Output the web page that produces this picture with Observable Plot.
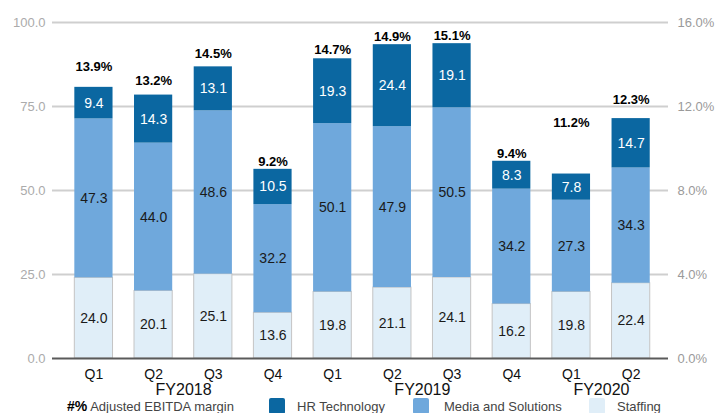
<!DOCTYPE html>
<html>
<head>
<meta charset="utf-8">
<script src="https://cdn.jsdelivr.net/npm/d3@7"></script>
<script src="https://cdn.jsdelivr.net/npm/@observablehq/plot@0.6"></script>
<style>
  body { margin: 0; background: #fff; font-family: "Liberation Sans", Arial, sans-serif; }
  #chart { width: 718px; height: 400px; }
  .legend { position: relative; margin-top: -3px; height: 16px; width: 718px; font-size: 13px; color: #444; overflow: hidden; }
  .legend span { position: absolute; top: 1px; line-height: 17px; white-space: nowrap; }
  .legend .sw { width: 16px; height: 16px; border-radius: 2px; top: 1px; }
</style>
</head>
<body>
<div id="chart"></div>
<div class="legend" id="legend"></div>
<script>
const quarters = ["Q1","Q2","Q3","Q4","Q1","Q2","Q3","Q4","Q1","Q2"];
const fiscalYears = ["FY2018","FY2018","FY2018","FY2018","FY2019","FY2019","FY2019","FY2019","FY2020","FY2020"];
const staffing = [24.0, 20.1, 25.1, 13.6, 19.8, 21.1, 24.1, 16.2, 19.8, 22.4];
const media = [47.3, 44.0, 48.6, 32.2, 50.1, 47.9, 50.5, 34.2, 27.3, 34.3];
const hrTech = [9.4, 14.3, 13.1, 10.5, 19.3, 24.4, 19.1, 8.3, 7.8, 14.7];
const ebitdaMargin = [13.9, 13.2, 14.5, 9.2, 14.7, 14.9, 15.1, 9.4, 11.2, 12.3];
const seriesNames = ["Staffing", "Media and Solutions", "HR Technology"];
const seriesColors = ["#e0eef8", "#6fa8dc", "#0b67a1"];
const leftTicks = [0, 25, 50, 75, 100];
const rightTicks = [0, 4, 8, 12, 16];
const fyLabelAt = ["FY2018 Q2", "FY2019 Q2", "FY2020 Q1"];

const keys = quarters.map((q, i) => fiscalYears[i] + " " + q);
const seriesValues = [staffing, media, hrTech];
const rows = [];
seriesNames.forEach((s, si) => keys.forEach((k, i) => rows.push({key: k, series: s, value: seriesValues[si][i]})));
const yMax = leftTicks[leftTicks.length - 1];
const y2Max = rightTicks[rightTicks.length - 1];
const toLeft = v => v * yMax / y2Max;
// margin label sits at its secondary-axis value, but is kept clear of the bar top
const marginRows = keys.map((k, i) => {
  const total = staffing[i] + media[i] + hrTech[i];
  return {key: k, margin: ebitdaMargin[i], pos: Math.max(toLeft(ebitdaMargin[i]), total + 2.2)};
});

const plot = Plot.plot({
  width: 718,
  height: 400,
  marginTop: 22,
  marginBottom: 42,
  marginLeft: 52,
  marginRight: 50,
  style: {fontFamily: '"Liberation Sans", Arial, sans-serif', background: "#fff", overflow: "visible"},
  x: {type: "band", domain: keys, paddingInner: 0.36, paddingOuter: 0.34, align: 0.55, round: false},
  y: {domain: [0, yMax]},
  color: {domain: seriesNames, range: seriesColors},
  marks: [
    Plot.ruleY(leftTicks.slice(1), {stroke: "#cfcfcf", strokeWidth: 2}),
    Plot.barY(rows, Plot.stackY({x: "key", y: "value", z: "series", fill: "series",
      stroke: d => d.series === "Staffing" ? "#c4c4c4" : "none", strokeWidth: 1})),
    Plot.ruleY([0], {stroke: "#5a5a5a", strokeWidth: 2}),
    Plot.text(rows, Plot.stackY({x: "key", y: "value", z: "series", text: d => d.value.toFixed(1),
      fill: d => d.series === "HR Technology" ? "#ffffff" : "#1a1a1a", fontSize: 14})),
    Plot.text(marginRows, {x: "key", y: "pos", text: d => d.margin.toFixed(1) + "%",
      fontWeight: "bold", fontSize: 13, fill: "#000"}),
    Plot.axisY({anchor: "left", ticks: leftTicks, tickFormat: d => d.toFixed(1), tickSize: 0, tickPadding: 7,
      fontSize: 13, color: "#ababab", label: null}),
    Plot.axisY({anchor: "right", ticks: rightTicks.map(toLeft), tickFormat: (d, i) => rightTicks[i].toFixed(1) + "%",
      tickSize: 0, tickPadding: 9, fontSize: 13, color: "#9a9a9a", label: null}),
    Plot.axisX({tickFormat: d => d.split(" ")[1], tickSize: 0, tickPadding: 11, fontSize: 14, color: "#111", label: null}),
    Plot.axisX({ticks: fyLabelAt, tickFormat: d => d.split(" ")[0], tickSize: 0, tickPadding: 25, dx: 30,
      fontSize: 16, color: "#111", label: null})
  ]
});
document.getElementById("chart").appendChild(plot);

const legend = document.getElementById("legend");
const items = [
  {type: "html", left: 67, html: '<b style="color:#000;font-size:14px">#%</b> Adjusted EBITDA margin'},
  {type: "sw", left: 269, color: seriesColors[2]},
  {type: "html", left: 297, html: seriesNames[2]},
  {type: "sw", left: 413, color: seriesColors[1]},
  {type: "html", left: 444, html: seriesNames[1]},
  {type: "sw", left: 589, color: seriesColors[0]},
  {type: "html", left: 617, html: seriesNames[0]}
];
items.forEach(it => {
  const s = document.createElement("span");
  s.style.left = it.left + "px";
  if (it.type === "sw") { s.className = "sw"; s.style.background = it.color; }
  else s.innerHTML = it.html;
  legend.appendChild(s);
});
</script>
</body>
</html>
